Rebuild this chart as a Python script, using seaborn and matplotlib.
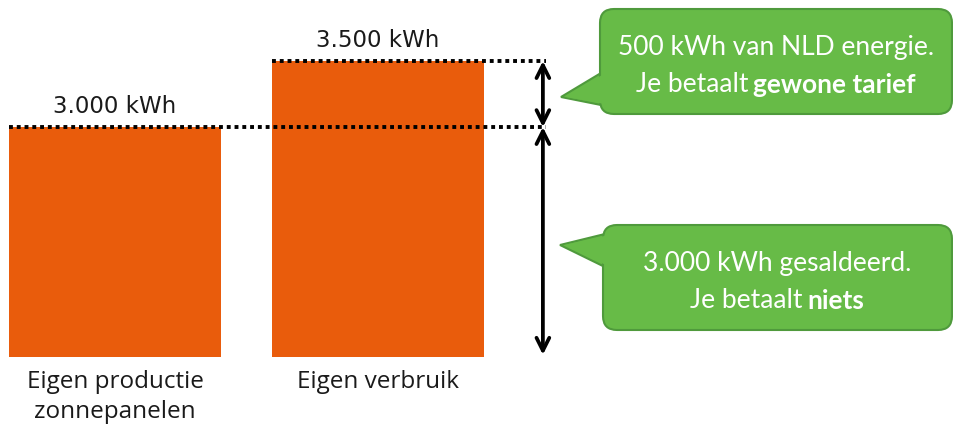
import matplotlib
matplotlib.use("Agg")
import matplotlib.pyplot as plt
import seaborn as sns
import pandas as pd
from matplotlib.patches import FancyBboxPatch, Polygon

# data
categories = ["Eigen productie\nzonnepanelen", "Eigen verbruik"]
values = [3000, 3500]
value_labels = ["3.000 kWh", "3.500 kWh"]

orange = "#E95C0C"
green = "#67BB47"
green_edge = "#4F9A3C"

sns.set_theme(style="white")
plt.rcParams["font.family"] = ["Open Sans", "DejaVu Sans"]

df = pd.DataFrame({"cat": categories, "kwh": values})

fig = plt.figure(figsize=(9.54, 4.28), dpi=100)
ax = fig.add_axes([0, 71 / 428, 1, 357 / 428])

bar_w = 0.806
sns.barplot(data=df, x="cat", y="kwh", color=orange, saturation=1,
            width=bar_w, ax=ax, linewidth=0)

ax.set_xlim(-0.437, 3.19)
ax.set_ylim(1258, 3963)
ax.set_xlabel("")
ax.set_ylabel("")
ax.set_yticks([])
ax.tick_params(axis="x", length=0, pad=9, labelsize=17.5, labelcolor="#1a1a1a")
for lab in ax.get_xticklabels():
    lab.set_linespacing(1.35)
for s in ax.spines.values():
    s.set_visible(False)

# value labels above bars
for i, (v, lab) in enumerate(zip(values, value_labels)):
    ax.annotate(lab, xy=(i, v), xytext=(0, 15), textcoords="offset points",
                ha="center", va="center", fontsize=16.5, color="#1a1a1a",
                family=["DejaVu Sans"])

# dotted reference lines and arrows
arrow_x = 1.627
for i, v in enumerate(values):
    ax.hlines(v, i - bar_w / 2, arrow_x + 0.01, colors="black",
              linewidth=2.8, linestyles=(0, (1, 1)))

arrow_props = dict(arrowstyle="<->", color="black", lw=2.7,
                   shrinkA=0, shrinkB=0, mutation_scale=23)
ax.annotate("", xy=(arrow_x, values[1]), xytext=(arrow_x, values[0]),
            arrowprops=arrow_props)
ax.annotate("", xy=(arrow_x, values[0]), xytext=(arrow_x, 1275),
            arrowprops=arrow_props)

# callouts in pixel coordinates
ov = fig.add_axes([0, 0, 1, 1])
ov.set_xlim(0, 954)
ov.set_ylim(428, 0)
ov.axis("off")
ov.patch.set_alpha(0)

renderer = fig.canvas.get_renderer()
fs = 19


def callout(x0, y0, x1, y1, tip, base_top, base_bot, line1, normal2, bold2):
    tri = Polygon([(x0 + 6, base_top), tip, (x0 + 6, base_bot)], closed=True,
                  facecolor=green, edgecolor=green_edge, lw=1.5, zorder=2)
    ov.add_patch(tri)
    box = FancyBboxPatch((x0, y0), x1 - x0, y1 - y0,
                         boxstyle="round,pad=0,rounding_size=14",
                         facecolor=green, edgecolor=green_edge, lw=1.5, zorder=3)
    ov.add_patch(box)
    cover = Polygon([(x0 + 8, base_top + 1.5), (tip[0] + 4, tip[1]), (x0 + 8, base_bot - 1.5)],
                    closed=True, facecolor=green, edgecolor="none", zorder=4)
    ov.add_patch(cover)
    cx = (x0 + x1) / 2
    ly1 = y0 + (y1 - y0) * 0.37
    ly2 = y0 + (y1 - y0) * 0.72
    ov.text(cx, ly1, line1, ha="center", va="center", color="white",
            fontsize=fs, family=["Lato"], zorder=5)
    t1 = ov.text(0, ly2, normal2, ha="left", va="center", color="white",
                 fontsize=fs, family=["Lato"], zorder=5)
    t2 = ov.text(0, ly2, bold2, ha="left", va="center", color="white",
                 fontsize=fs, family=["Lato"], weight="bold", zorder=5)
    w1 = t1.get_window_extent(renderer).width
    w2 = t2.get_window_extent(renderer).width
    gap = 5
    start = cx - (w1 + gap + w2) / 2
    t1.set_x(start)
    t2.set_x(start + w1 + gap)


callout(600, 9, 952, 114, (561, 97), 70, 106,
        "500 kWh van NLD energie.", "Je betaalt", "gewone tarief")
callout(603, 225, 952, 330, (560, 245), 233, 269,
        "3.000 kWh gesaldeerd.", "Je betaalt", "niets")

fig.savefig("out.png", dpi=100)
